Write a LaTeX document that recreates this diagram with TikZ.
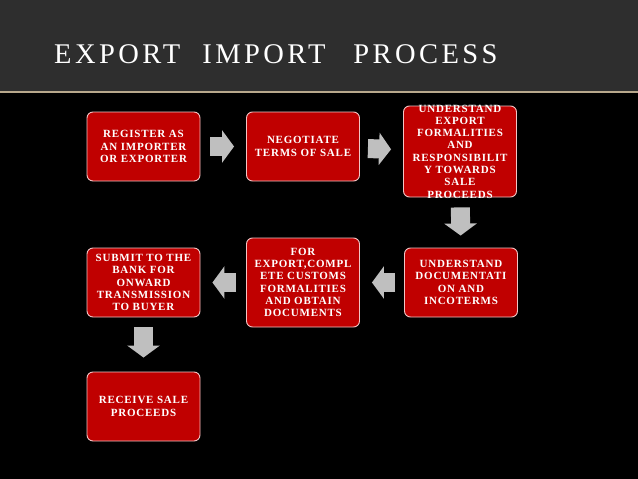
\documentclass[tikz,border=0pt]{standalone}
\usepackage{fontspec}
\setmainfont{Liberation Serif}
\usepackage{xcolor}
\usepackage{tikz}
\usetikzlibrary{arrows.meta}

\definecolor{boxred}{HTML}{C00000}
\definecolor{boxedge}{HTML}{F2C4C4}
\definecolor{headgray}{HTML}{2E2E2E}
\definecolor{ruletan}{HTML}{B8A88C}
\definecolor{arrowgray}{HTML}{BFBFBF}

\begin{document}
\begin{tikzpicture}[
  x=1pt, y=-1pt,
  box/.style={draw=boxedge, line width=0.9pt, fill=boxred, rounded corners=6pt,
              minimum width=113pt, minimum height=69pt, inner sep=2pt,
              text=white, align=center,
              font=\bfseries\fontsize{11}{12.3}\selectfont\addfontfeature{LetterSpace=7}},
  blk/.style={arrowgray, line width=19pt, shorten <=10pt, shorten >=12pt,
              -{Triangle[width=32pt, length=12pt]}},
  title/.style={text=white, inner sep=0pt,
                font=\fontsize{28.5}{30}\selectfont\addfontfeature{LetterSpace=12}},
]
  \useasboundingbox (0,0) rectangle (638,479);
  \fill[black] (0,0) rectangle (638,479);
  % header band
  \fill[headgray] (0,0) rectangle (638,91);
  \draw[ruletan, line width=1.5pt] (0,92) -- (638,92);
  \node[title, anchor=base west] (title) at (54,63)
    {EXPORT\hspace{22pt}IMPORT\hspace{28pt}PROCESS};

  % first row
  \node[box] (reg) at (143.5,146.5) {REGISTER AS\\AN IMPORTER\\OR EXPORTER};
  \node[box] (neg) at (303,146.5)   {NEGOTIATE\\TERMS OF SALE};
  \node[box, minimum height=91pt, inner ysep=-5pt] (frm) at (460,151.5)
    {UNDERSTAND\\EXPORT\\FORMALITIES\\AND\\RESPONSIBILIT\\Y TOWARDS\\SALE\\PROCEEDS};
  % second row
  \node[box] (doc) at (461,282.5) {UNDERSTAND\\DOCUMENTATI\\ON AND\\INCOTERMS};
  \node[box, minimum height=89pt] (cus) at (303,282.5)
    {FOR\\EXPORT,COMPL\\ETE CUSTOMS\\FORMALITIES\\AND OBTAIN\\DOCUMENTS};
  \node[box] (sub) at (143.5,282.5) {SUBMIT TO THE\\BANK FOR\\ONWARD\\TRANSMISSION\\TO BUYER};
  % last step
  \node[box] (rec) at (143.5,406.5) {RECEIVE SALE\\PROCEEDS};

  \draw[blk] (reg) -- (neg);
  \draw[blk, shorten <=8pt] (neg) -- (frm);
  \draw[blk] (frm) -- (doc);
  \draw[blk, shorten <=9pt] (doc) -- (cus);
  \draw[blk] (cus) -- (sub);
  \draw[blk, shorten >=14pt] (sub) -- (rec);
\end{tikzpicture}
\end{document}
